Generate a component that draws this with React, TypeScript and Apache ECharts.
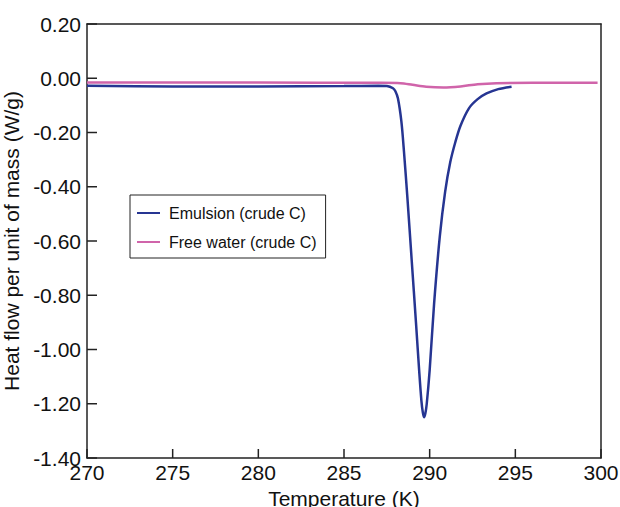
import React, { useEffect, useRef } from "react";
import * as echarts from "echarts";

const emulsionTemps = [
  270, 275, 280, 285, 287, 287.5, 287.86, 288.0, 288.15, 288.35, 288.5, 288.7,
  288.95, 289.2, 289.4, 289.52, 289.6, 289.67, 289.75, 289.83, 290.0, 290.26, 290.59,
  290.9, 291.2, 291.5, 291.8, 292.3, 292.8, 293.32, 294.0, 294.78,
];
const emulsionHeat = [
  -0.028, -0.03, -0.03, -0.029, -0.028, -0.029, -0.037, -0.048, -0.075, -0.16, -0.27,
  -0.44, -0.67, -0.9, -1.09, -1.19, -1.232, -1.25, -1.235, -1.2, -1.076, -0.83,
  -0.584, -0.42, -0.31, -0.235, -0.175, -0.11, -0.077, -0.056, -0.04, -0.031,
];

const waterTemps = [
  270, 280, 287, 288.3, 289, 289.8, 290.8, 291.8, 292.8, 293.9, 296, 299.8,
];
const waterHeat = [
  -0.016, -0.016, -0.017, -0.018, -0.024, -0.031, -0.034, -0.03, -0.022, -0.018, -0.017,
  -0.017,
];

const xTicks = [270, 275, 280, 285, 290, 295, 300];
const yTicks = [0.2, 0, -0.2, -0.4, -0.6, -0.8, -1.0, -1.2, -1.4];

const seriesNames = ["Emulsion (crude C)", "Free water (crude C)"];

export default function App() {
  const ref = useRef<HTMLDivElement>(null);
  useEffect(() => {
    if (!ref.current) return;
    const chart = echarts.init(ref.current, undefined, { renderer: "svg" });
    const font = "Liberation Sans, Arial, Helvetica, sans-serif";
    const xMin = xTicks[0];
    const xMax = xTicks[xTicks.length - 1];
    const yMin = yTicks[yTicks.length - 1];
    const yMax = yTicks[0];
    const lineCol = "#222";
    chart.setOption({
      animation: false,
      backgroundColor: "#fff",
      textStyle: { fontFamily: font },
      grid: {
        left: 87,
        right: 19,
        top: 24,
        bottom: 49,
        containLabel: false,
        outerBoundsMode: "none",
      },
      legend: {
        orient: "vertical",
        left: 130,
        top: 195,
        data: seriesNames,
        icon: "rect",
        itemWidth: 23,
        itemHeight: 2,
        itemGap: 13,
        padding: [10, 9, 8, 7],
        borderColor: lineCol,
        borderWidth: 1,
        textStyle: { fontSize: 16, color: "#111", fontFamily: font, padding: [0, 0, 0, 4] },
      },
      xAxis: [
        {
          type: "value",
          position: "bottom",
          min: xMin,
          max: xMax,
          interval: 5,
          name: "Temperature (K)",
          nameLocation: "middle",
          nameGap: 25,
          nameTextStyle: { fontSize: 21, color: "#111", fontFamily: font },
          axisLine: { show: true, onZero: false, lineStyle: { color: lineCol, width: 1.5 } },
          axisTick: { show: false },
          axisLabel: { fontSize: 21, color: "#111", margin: 4, fontFamily: font },
          splitLine: { show: false },
        },
        {
          type: "value",
          position: "top",
          min: xMin,
          max: xMax,
          interval: 5,
          axisLine: { show: true, onZero: false, lineStyle: { color: lineCol, width: 1.5 } },
          axisTick: { show: false },
          axisLabel: { show: false },
          splitLine: { show: false },
        },
      ],
      yAxis: [
        {
          type: "value",
          position: "left",
          min: yMin,
          max: yMax,
          interval: 0.2,
          name: "Heat flow per unit of mass (W/g)",
          nameLocation: "middle",
          nameGap: 56,
          nameTextStyle: { fontSize: 21, color: "#111", fontFamily: font },
          axisLine: { show: true, onZero: false, lineStyle: { color: lineCol, width: 1.5 } },
          axisTick: { show: false },
          axisLabel: {
            fontSize: 21,
            color: "#111",
            margin: 6,
            fontFamily: font,
            formatter: (v: number) => v.toFixed(2),
          },
          splitLine: { show: false },
        },
        {
          type: "value",
          position: "right",
          min: yMin,
          max: yMax,
          interval: 0.2,
          axisLine: { show: true, onZero: false, lineStyle: { color: lineCol, width: 1.5 } },
          axisTick: { show: false },
          axisLabel: { show: false },
          splitLine: { show: false },
        },
      ],
      series: [
        {
          name: seriesNames[0],
          type: "line",
          data: emulsionTemps.map((t, i) => [t, emulsionHeat[i]]),
          smooth: 0.3,
          showSymbol: false,
          lineStyle: { color: "#263592", width: 2.5 },
          itemStyle: { color: "#263592" },
          z: 3,
        },
        {
          name: seriesNames[1],
          type: "line",
          data: waterTemps.map((t, i) => [t, waterHeat[i]]),
          smooth: 0.3,
          showSymbol: false,
          lineStyle: { color: "#d064aa", width: 2.5 },
          itemStyle: { color: "#d064aa" },
          z: 2,
        },
        {
          name: "xTickMarks",
          type: "custom",
          silent: true,
          clip: false,
          data: xTicks.map((v) => [v, yMin]),
          renderItem: (_p: any, api: any) => {
            const pt = api.coord([api.value(0), api.value(1)]);
            return {
              type: "line",
              shape: { x1: pt[0], y1: pt[1], x2: pt[0], y2: pt[1] - 9 },
              style: { stroke: lineCol, lineWidth: 1.5 },
            };
          },
          z: 10,
        },
        {
          name: "yTickMarks",
          type: "custom",
          silent: true,
          clip: false,
          data: yTicks.map((v) => [xMin, v]),
          renderItem: (_p: any, api: any) => {
            const pt = api.coord([api.value(0), api.value(1)]);
            return {
              type: "line",
              shape: { x1: pt[0], y1: pt[1], x2: pt[0] + 10, y2: pt[1] },
              style: { stroke: lineCol, lineWidth: 1.5 },
            };
          },
          z: 10,
        },
      ],
    });
    return () => chart.dispose();
  }, []);
  return (
    <div
      ref={ref}
      style={{ position: "fixed", left: 0, top: 0, width: 620, height: 507 }}
    />
  );
}
